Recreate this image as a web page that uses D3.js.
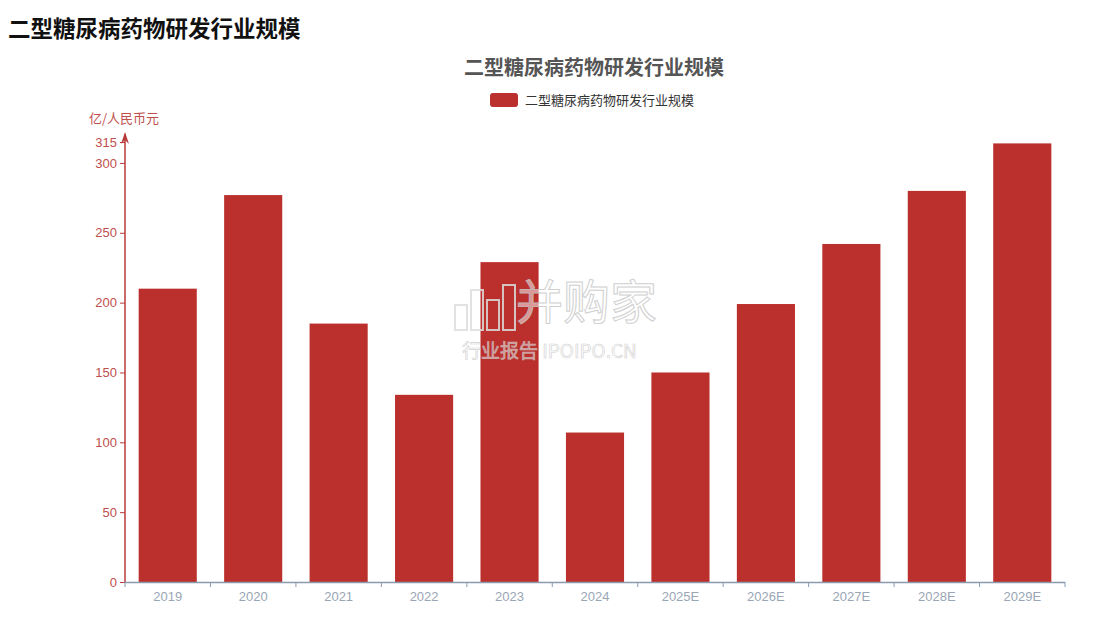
<!DOCTYPE html>
<html><head><meta charset="utf-8">
<script src="https://cdn.jsdelivr.net/npm/d3@7/dist/d3.min.js"></script>
<style>body{margin:0;background:#fff;font-family:"Noto Sans CJK SC","Liberation Sans",sans-serif;}</style>
</head><body><svg id="c" width="1120" height="629"></svg>
<script>
const categories = ["2019","2020","2021","2022","2023","2024","2025E","2026E","2027E","2028E","2029E"];
const values = [210, 277, 185, 134, 229, 107, 150, 199, 242, 280, 314];
const yTicks = [0, 50, 100, 150, 200, 250, 300, 315];
const seriesName = "二型糖尿病药物研发行业规模";
const pageTitle = "二型糖尿病药物研发行业规模";
const yName = "亿/人民币元";

(function(){
const svg = d3.select("#c");
const mL = 125, mR = 1065, mT = 142, mB = 582;
const x = d3.scaleBand().domain(categories).range([mL, mR]).paddingInner(0.32).paddingOuter(0.16);
const y = d3.scaleLinear().domain([0, 315]).range([mB, mT]);

svg.append("text").attr("x", 8).attr("y", 37).attr("font-size", 22.5).attr("font-weight", "bold")
  .attr("fill", "#111").text(pageTitle);
svg.append("text").attr("x", 594).attr("y", 75).attr("text-anchor", "middle").attr("font-size", 20)
  .attr("font-weight", "bold").attr("fill", "#555").text(seriesName);
svg.append("rect").attr("x", 490).attr("y", 93).attr("width", 28).attr("height", 14).attr("rx", 3).attr("fill", "#bb302c");
svg.append("text").attr("x", 525).attr("y", 105).attr("font-size", 13).attr("fill", "#333").text(seriesName);

// bars
svg.append("g").selectAll("rect").data(values).join("rect")
  .attr("x", (d, i) => x(categories[i])).attr("width", x.bandwidth())
  .attr("y", d => y(d)).attr("height", d => y(0) - y(d)).attr("fill", "#bb302c");

// y axis
const ya = svg.append("g").attr("transform", `translate(${mL},0)`)
  .call(d3.axisLeft(y).tickValues(yTicks).tickSize(5).tickPadding(3));
ya.select(".domain").remove();
ya.selectAll("line").attr("stroke", "#b83b3b");
ya.selectAll("text").attr("fill", "#c0504d").attr("font-size", 13).attr("font-family", "Liberation Sans, sans-serif");
svg.append("line").attr("x1", mL).attr("x2", mL).attr("y1", mB).attr("y2", 134)
  .attr("stroke", "#b83b3b").attr("stroke-width", 1.5);
svg.append("path").attr("d", `M${mL-4},${144} L${mL},${132} L${mL+4},${144} L${mL},${140} Z`).attr("fill", "#b83b3b");
svg.append("text").attr("x", 89).attr("y", 123).attr("font-size", 13).attr("fill", "#c0504d").text(yName);

// x axis
const xa = svg.append("g").attr("transform", `translate(0,${mB})`)
  .call(d3.axisBottom(x).tickSize(0).tickPadding(10));
xa.select(".domain").remove();
xa.selectAll("text").attr("fill", "#9aa6b5").attr("font-size", 13).attr("font-family", "Liberation Sans, sans-serif");
svg.append("line").attr("x1", mL).attr("x2", mR).attr("y1", mB + 0.5).attr("y2", mB + 0.5)
  .attr("stroke", "#8a9bb0").attr("stroke-width", 1.5);
svg.append("g").selectAll("line").data(d3.range(categories.length + 1)).join("line")
  .attr("x1", i => mL + i * (mR - mL) / categories.length).attr("x2", i => mL + i * (mR - mL) / categories.length)
  .attr("y1", mB).attr("y2", mB + 5).attr("stroke", "#8a9bb0");

// watermark
const wm = svg.append("g").attr("opacity", 0.85);
wm.append("text").attr("x", 516).attr("y", 319).attr("font-size", 47)
  .attr("fill", "#fff").attr("fill-opacity", 0.6).attr("stroke", "#c8c8c8").attr("stroke-width", 1).text("并购家");
wm.append("text").attr("x", 462).attr("y", 358).attr("font-size", 19)
  .attr("fill", "#fff").attr("fill-opacity", 0.6).attr("stroke", "#c8c8c8").attr("stroke-width", 0.6).text("行业报告 IPOIPO.CN");
const bw = [[455,305,12,25],[471,290,12,40],[487,300,12,30],[503,285,12,45]];
wm.selectAll("rect.w").data(bw).join("rect").attr("x", d => d[0]).attr("y", d => d[1]).attr("width", d => d[2]).attr("height", d => d[3])
  .attr("fill", "none").attr("stroke", "#ddd").attr("stroke-width", 2);
})();
</script></body></html>
